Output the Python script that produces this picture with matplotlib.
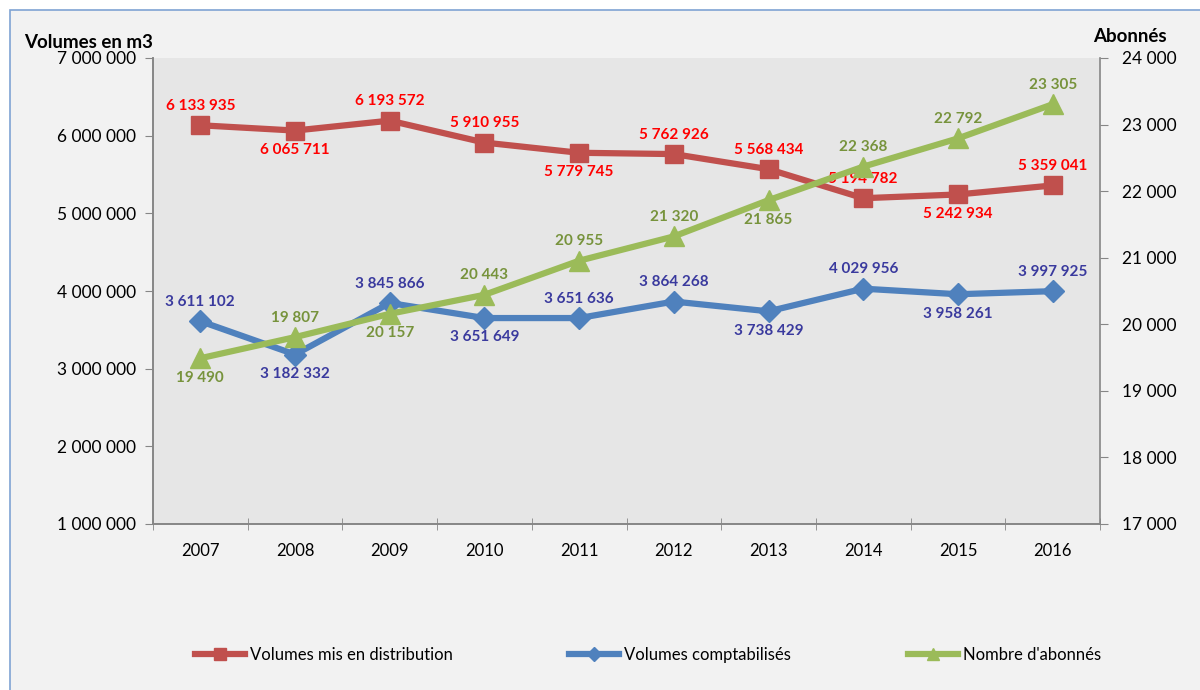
# Volumes d'eau et nombre d'abonnés 2007-2016
import numpy as np
import matplotlib.pyplot as plt
from matplotlib.patches import Rectangle
from matplotlib.ticker import FuncFormatter

plt.rcParams['font.family'] = ['Lato', 'DejaVu Sans']

annees = ['2007', '2008', '2009', '2010', '2011', '2012', '2013', '2014', '2015', '2016']
vol_distrib = [6133935, 6065711, 6193572, 5910955, 5779745, 5762926, 5568434, 5194782, 5242934, 5359041]
vol_compta = [3611102, 3182332, 3845866, 3651649, 3651636, 3864268, 3738429, 4029956, 3958261, 3997925]
abonnes = [19490, 19807, 20157, 20443, 20955, 21320, 21865, 22368, 22792, 23305]

# position des étiquettes : 1 = au-dessus, -1 = en dessous
pos_distrib = [1, -1, 1, 1, -1, 1, 1, 1, -1, 1]
pos_compta = [1, -1, 1, -1, 1, 1, -1, 1, -1, 1]
pos_abonnes = [-1, 1, -1, 1, 1, 1, -1, 1, 1, 1]

c_rouge = '#C0504D'
c_bleu = '#4F81BD'
c_vert = '#9BBB59'


def espace(v, pos=None):
    return f'{int(v):,}'.replace(',', ' ')


fig = plt.figure(figsize=(12, 6.9), dpi=100, facecolor='white')
fig.patches.append(Rectangle((10/1200, -0.1), 1.2, 1 - 10/690 + 0.1, transform=fig.transFigure,
                             facecolor='#F2F2F2', edgecolor='#7FA3D3', linewidth=1.2, zorder=-10))

ax = fig.add_axes([153/1200, 1 - 524/690, 947/1200, 466/690])
ax2 = ax.twinx()
ax.set_facecolor('#E6E6E6')

x = np.arange(len(annees))
l1, = ax.plot(x, vol_distrib, color=c_rouge, lw=4.5, marker='s', ms=13, label='Volumes mis en distribution', zorder=3)
l2, = ax.plot(x, vol_compta, color=c_bleu, lw=4.5, marker='D', ms=11, label='Volumes comptabilisés', zorder=3)
l3, = ax2.plot(x, abonnes, color=c_vert, lw=4.5, marker='^', ms=14, label="Nombre d'abonnés", zorder=3)

for xi, v, p in zip(x, vol_distrib, pos_distrib):
    ax.annotate(espace(v), (xi, v), xytext=(0, 14 * p), textcoords='offset points',
                ha='center', va='center', color='#FF0000', fontsize=11, fontweight='bold', zorder=5)
for xi, v, p in zip(x, vol_compta, pos_compta):
    ax.annotate(espace(v), (xi, v), xytext=(0, 14 * p), textcoords='offset points',
                ha='center', va='center', color='#3A3A9E', fontsize=11, fontweight='bold', zorder=5)
for xi, v, p in zip(x, abonnes, pos_abonnes):
    ax2.annotate(espace(v), (xi, v), xytext=(0, 14 * p), textcoords='offset points',
                 ha='center', va='center', color='#77933C', fontsize=11, fontweight='bold', zorder=5)

ax.set_xlim(-0.5, len(annees) - 0.5)
ax.set_ylim(1000000, 7000000)
ax2.set_ylim(17000, 24000)
ax.set_yticks(np.arange(1000000, 7000001, 1000000))
ax2.set_yticks(np.arange(17000, 24001, 1000))
ax.yaxis.set_major_formatter(FuncFormatter(espace))
ax2.yaxis.set_major_formatter(FuncFormatter(espace))

ax.set_xticks(x)
ax.set_xticklabels(annees)
ax.set_xticks(np.arange(-0.5, len(annees)), minor=True)
ax.tick_params(axis='x', which='major', length=0, pad=14, labelsize=12)
ax.tick_params(axis='x', which='minor', length=8, direction='inout', color='#868686')
ax.tick_params(axis='y', length=6, direction='out', color='#868686', labelsize=12.5, pad=6)
ax2.tick_params(axis='y', length=6, direction='out', color='#868686', labelsize=12.5, pad=10)

for a in (ax, ax2):
    a.spines['top'].set_visible(False)
    for s in ['left', 'right', 'bottom']:
        a.spines[s].set_color('#868686')
        a.spines[s].set_linewidth(1.2)
ax.spines['right'].set_visible(False)

fig.text(24/1200, 1 - 42/690, 'Volumes en m3', fontsize=13.5, fontweight='bold', va='center', ha='left')
fig.text(1093/1200, 1 - 37/690, 'Abonnés', fontsize=13.5, fontweight='bold', va='center', ha='left')

fig.legend(handles=[l1, l2, l3], loc='center', bbox_to_anchor=(0.54, 1 - 655/690), ncol=3,
           frameon=False, fontsize=12, handlelength=3, columnspacing=7, handletextpad=0.3,
           markerscale=0.65)

plt.savefig('out.png', dpi=100, facecolor=fig.get_facecolor())
